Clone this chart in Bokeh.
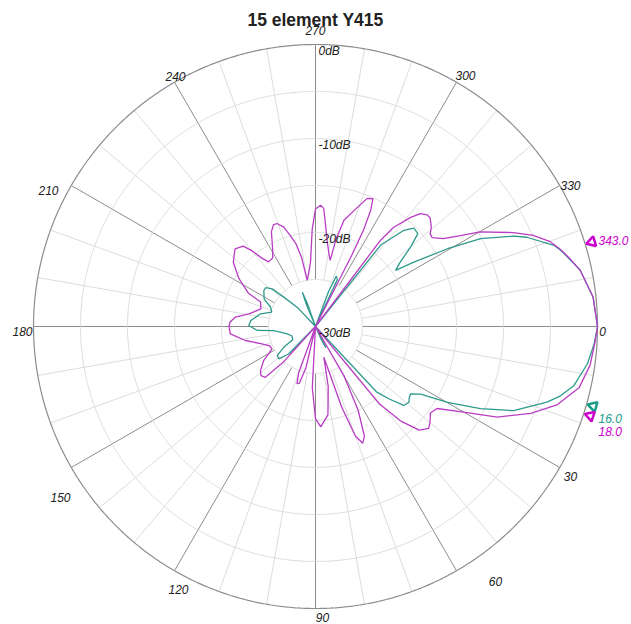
import numpy as np
from bokeh.plotting import figure
from bokeh.models import Range1d
from bokeh.embed import file_html
from bokeh.resources import INLINE
from bokeh.core.properties import value

# ---------------- data ----------------
title_text = "15 element Y415"
db_floor = -30.0
db_top = 0.0
ring_db = [-25, -20, -15, -10, -5]
db_label_vals = [0, -10, -20, -30]
db_label_text = ["0dB", "-10dB", "-20dB", "-30dB"]
angle_ticks = [0, 30, 60, 90, 120, 150, 180, 210, 240, 270, 300, 330]
angle_tick_labels = ["0", "30", "60", "90", "120", "150", "180", "210", "240", "270", "300", "330"]
minor_angles = list(range(0, 360, 10))

mag_ang = [0, 3, 8, 13, 18, 22, 26.5, 30, 34, 37, 40, 42, 45, 48, 50.5, 52.5, 57,
           60, 63, 66, 68, 70, 72, 74.8, 78, 82, 87, 90, 93, 96, 100, 103, 106, 108, 110, 113,
           130, 132, 134.6, 138, 141.3, 146.7, 152.7, 157, 162, 168.7, 175, 180, 183, 186.6,
           190.8, 197.8, 204, 206.5, 212, 218, 224, 228, 230, 232, 234, 238, 241, 245, 247.5,
           249.5, 252.3, 254.6, 256.8, 258.6, 259.8, 262, 265.6, 268.1, 270, 272.4, 274, 275.7,
           277.9, 280.4, 282.5, 283.2, 285, 289.3, 292, 294.2, 295.4, 296.5, 297, 298, 306,
           307, 308.2, 311.1, 312.9, 315, 316.5, 318, 319.5, 321, 322.7, 325.5, 327.9, 330.1,
           334.6, 337.3, 340, 342.5, 345, 348.1, 354, 360]
mag_db = [0.0, -0.2, -0.5, -1.2, -3.0, -5.3, -8.4, -11.8, -14.4, -14.7, -14.1, -13.8, -14.4, -16.5, -19.3, -31, -31,
          -24.0, -20.0, -17.2, -16.6, -17.6, -21.0, -26.6, -23.5, -20.5, -19.3, -20.2, -23.5, -31, -31, -25.5, -23.7, -23.6, -24.8, -31,
          -31, -25.0, -22.4, -22.2, -22.5, -23.4, -24.8, -24.7, -24.0, -22.4, -20.9, -20.8, -20.9, -21.4,
          -22.8, -23.9, -23.6, -22.0, -20.4, -18.9, -18.1, -18.5, -19.5, -20.8, -21.5, -21.4, -20.6, -18.9, -18.3,
          -18.3, -18.9, -20.0, -21.0, -22.5, -25.0, -24.5, -23.1, -19.6, -17.5, -17.1, -17.4, -19.2,
          -20.9, -22.1, -22.8, -20.5, -18.3, -16.6, -15.3, -15.1, -16.3, -18.6, -21.5, -31, -31,
          -18.5, -16.6, -14.6, -13.6, -13.2, -13.2, -13.5, -13.8, -14.3, -14.4, -13.5, -11.8, -9.8,
          -6.7, -4.9, -3.5, -2.7, -2.0, -1.2, -0.3, 0.0]

teal_ang = [0, 3.6, 7.8, 12.9, 16, 18.1, 23, 26.5, 29.9, 32.7, 35.3, 37, 39, 41.8, 44.5, 47, 49,
            60, 62, 64, 66, 68, 132, 134.4, 138.6, 142.9, 146.8, 150, 158, 165.5, 171, 174.5, 176.1,
            180.9, 185.3, 193, 198.3, 203.2, 208.2, 214.9, 218, 221, 222.8, 226.5, 229,
            245, 247.5, 249, 250.5, 253, 288, 290.5, 292.5, 295, 297, 307.5, 308.7, 312.6, 315,
            317.8, 320.1, 323, 325, 326.8, 329.5, 332, 335.5, 337.1, 341.2, 343, 348, 354, 360]
teal_db = [0.0, -0.3, -0.8, -1.8, -3.0, -4.1, -7.1, -10.4, -13.8, -16.7, -17.6, -17.5, -17.2, -17.4, -19.0, -20.5, -31,
           -31, -28.5, -27.5, -28.5, -31, -31, -25.9, -24.8, -24.9, -26.0, -27.2, -27.3, -26.9, -26.2, -25.5, -23.8,
           -22.9, -23.1, -24.0, -25.1, -24.8, -23.8, -23.3, -23.3, -23.9, -25.4, -27.2, -31,
           -31, -27.5, -26.1, -27.5, -31, -31, -26.0, -24.2, -24.5, -31, -31, -18.9, -16.1, -15.2,
           -15.3, -16.8, -18.8, -19.6, -17.5, -13.7, -10.1, -6.8, -5.6, -3.2, -2.6, -1.2, -0.3, 0.0]

# -3 dB beamwidth markers
mark_ang = [16.0, 343.0, 18.0]
mark_text = ["16.0", "343.0", "18.0"]
mark_series = ["teal", "mag", "mag"]

# ---------------- styling / geometry ----------------
R = 282.0           # outer ring radius in screen pixels
R_IN = 47.0         # spokes start here
W, H = 631, 624
CX, CY = 315, 326   # centre in canvas pixels (from top-left)
MAG = "#b93cc4"
TEAL = "#2e9a8c"
MAG_MARK = "#cc00cc"
TEAL_MARK = "#1a9a88"
FONT = "Liberation Sans"
# label centre offsets from plot centre (pixels, x right / y up), one per angle tick
tick_lbl_dx = [287, 255, 180, 7, -137, -255, -293, -267, -140, 0, 150, 255]
tick_lbl_dy = [-5, -150, -255, -291, -263, -171, -5, 136, 250, 296, 251, 141]


def rad(db):
    d = np.clip(np.asarray(db, dtype=float), db_floor, db_top)
    return R * (d - db_floor) / (db_top - db_floor)


def xy(ang, r):
    a = np.radians(np.asarray(ang, dtype=float))
    return r * np.cos(a), -r * np.sin(a)


p = figure(width=W, height=H, x_range=Range1d(-CX, W - CX), y_range=Range1d(-(H - CY), CY),
           output_backend="svg", toolbar_location=None, min_border=0,
           x_axis_type=None, y_axis_type=None)
p.grid.visible = False
p.outline_line_color = None
p.background_fill_color = "white"

# spokes
xs, ys, xs2, ys2 = [], [], [], []
for a in minor_angles:
    x0, y0 = xy(a, R_IN)
    x1, y1 = xy(a, R)
    if a % 30 == 0:
        xs2.append([float(x0), float(x1)]); ys2.append([float(y0), float(y1)])
    else:
        xs.append([float(x0), float(x1)]); ys.append([float(y0), float(y1)])
p.multi_line(xs, ys, line_color="#dcdcdc", line_width=1)
p.multi_line(xs2, ys2, line_color="#8c8c8c", line_width=1)

# rings
th = np.linspace(0, 360, 721)
for d in ring_db:
    rx, ry = xy(th, rad(d))
    p.line(rx, ry, line_color="#dcdcdc", line_width=1)
rx, ry = xy(th, rad(0))
p.line(rx, ry, line_color="#8c8c8c", line_width=1.2)

# angle labels
p.text(x=tick_lbl_dx, y=tick_lbl_dy, text=angle_tick_labels, text_font=value(FONT),
       text_font_style="italic", text_font_size="12px", text_color="#222222",
       text_align="center", text_baseline="middle")

# pattern curves
tx, ty = xy(teal_ang, rad(teal_db))
p.line(tx, ty, line_color=TEAL, line_width=1.3)
mx, my = xy(mag_ang, rad(mag_db))
p.line(mx, my, line_color=MAG, line_width=1.3)

# dB labels (on top of curves)
for d, t in zip(db_label_vals, db_label_text):
    yy = rad(d) + 1
    p.text(x=[3], y=[float(yy)], text=[t], text_font=value(FONT), text_font_style="italic",
           text_font_size="12px", text_color="#222222", text_baseline="top", text_align="left")

# markers (triangles just outside the rim, pointing inward)
for a, t, s in zip(mark_ang, mark_text, mark_series):
    col = TEAL_MARK if s == "teal" else MAG_MARK
    mxp, myp = xy(a, R + 7)
    p.scatter([float(mxp)], [float(myp)], marker="triangle", size=10,
              angle=float(np.radians(90 - a)),
              fill_color="white", line_color=col, line_width=2.5)

p.text(x=[283], y=[86], text=["343.0"], text_font=value(FONT), text_font_style="italic",
       text_font_size="12px", text_color=MAG_MARK, text_baseline="middle", text_align="left")
p.text(x=[283], y=[-92], text=["16.0"], text_font=value(FONT), text_font_style="italic",
       text_font_size="12px", text_color=TEAL_MARK, text_baseline="middle", text_align="left")
p.text(x=[283], y=[-105], text=["18.0"], text_font=value(FONT), text_font_style="italic",
       text_font_size="12px", text_color=MAG_MARK, text_baseline="middle", text_align="left")

# title
p.text(x=[0], y=[CY - 19], text=[title_text], text_font=value(FONT), text_font_style="bold",
       text_font_size="17.5px", text_color="#222222", text_align="center", text_baseline="middle")

open("out.html", "w").write(file_html(p, INLINE))
